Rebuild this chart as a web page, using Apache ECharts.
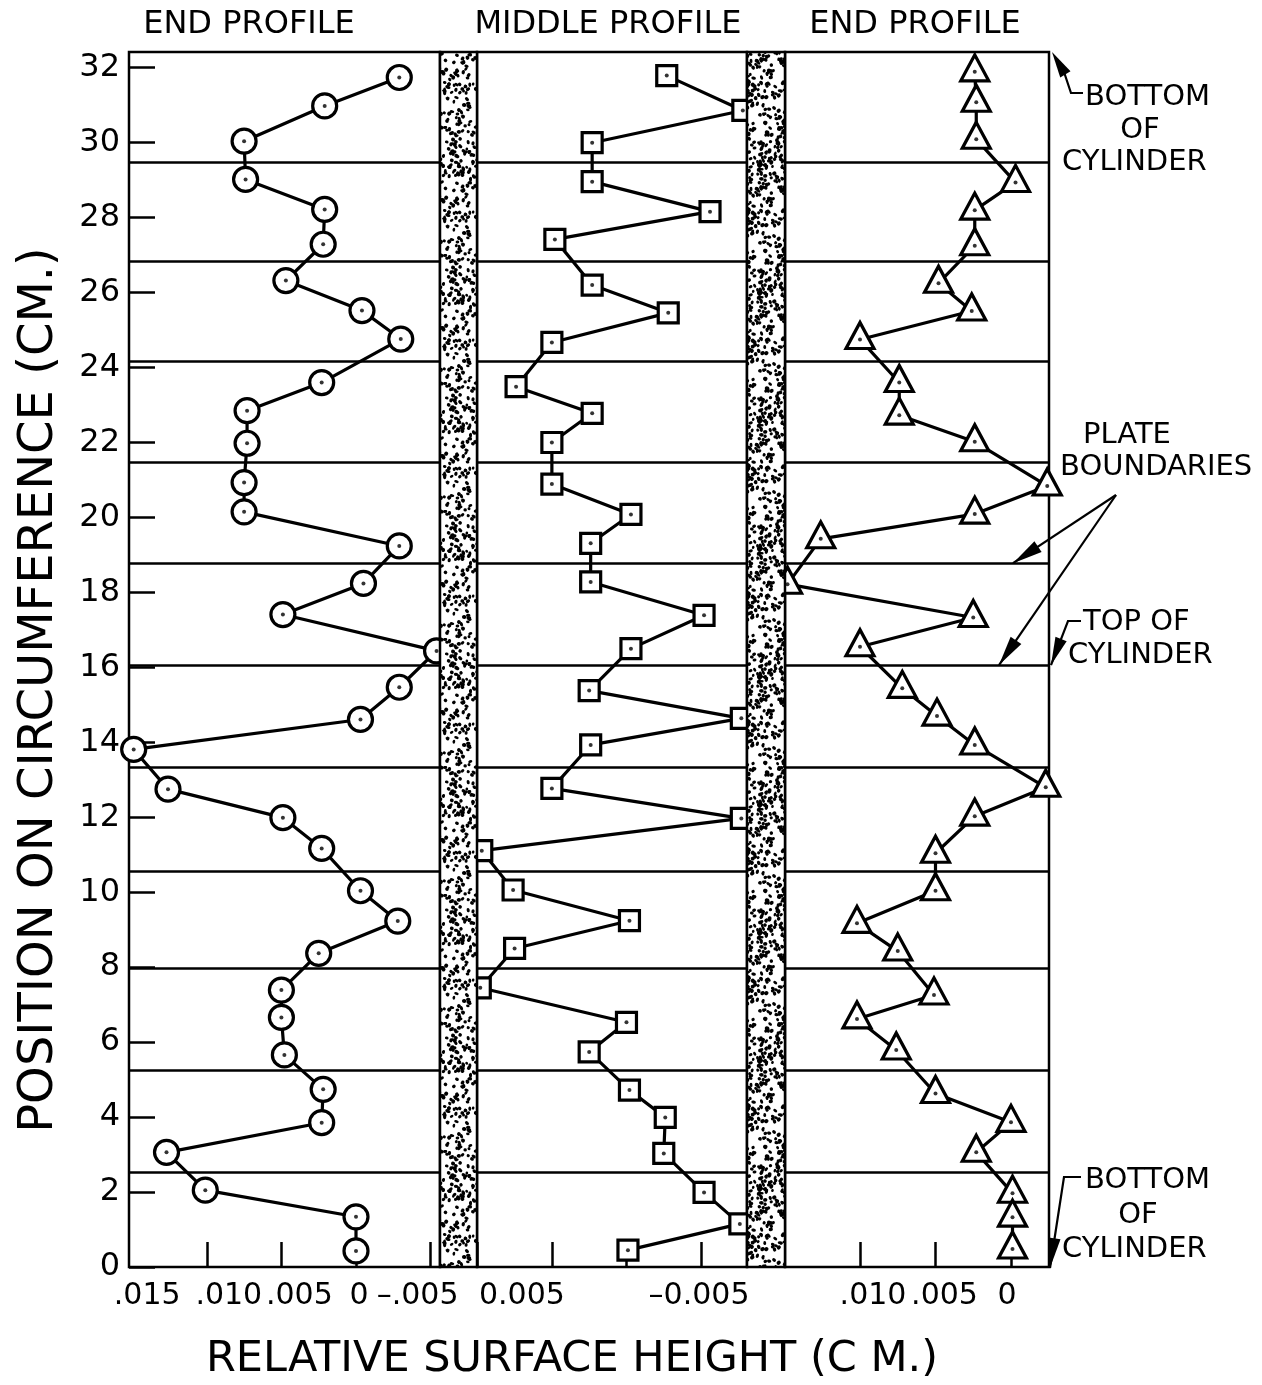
<!DOCTYPE html>
<html>
<head>
<meta charset="utf-8">
<script src="https://cdn.jsdelivr.net/npm/echarts@6/dist/echarts.min.js"></script>
<style>
  html, body { margin: 0; padding: 0; background: #fff; }
  #chart { width: 1262px; height: 1385px; }
</style>
</head>
<body>
<div id="chart"></div>
<script>
// ---- readings: position on circumference (cm) and relative surface height (cm) ----
const endLeftPos = [31.74, 30.98, 30.04, 29.02, 28.22, 27.29, 26.32, 25.52, 24.76, 23.60, 22.85, 21.98,
                    20.93, 20.15, 19.24, 18.24, 17.41, 16.44, 15.47, 14.61, 13.81, 12.75, 11.99, 11.17,
                    10.04, 9.23, 8.37, 7.39, 6.66, 5.66, 4.74, 3.85, 3.06, 2.05, 1.34, 0.43];
const endLeftHeight = [-0.0029, 0.0021, 0.0075, 0.0074, 0.0021, 0.0022, 0.0047, -0.0004, -0.0030, 0.0023, 0.0073, 0.0073,
                       0.0075, 0.0075, -0.0029, -0.0005, 0.0049, -0.0054, -0.0029, -0.0003, 0.0149, 0.0126, 0.0049, 0.0023,
                       -0.0003, -0.0028, 0.0025, 0.0050, 0.0050, 0.0048, 0.0022, 0.0023, 0.0127, 0.0101, 0.0000, 0.0000];

const middlePos = [31.79, 30.86, 30.00, 28.96, 28.16, 27.42, 26.20, 25.46, 24.67, 23.49, 22.78, 22.00,
                   20.89, 20.08, 19.31, 18.28, 17.39, 16.50, 15.38, 14.64, 13.93, 12.77, 11.97, 11.11,
                   10.06, 9.24, 8.50, 7.45, 6.53, 5.74, 4.72, 3.99, 3.03, 1.99, 1.15, 0.45];
const middleHeight = [-0.0027, -0.0078, 0.0023, 0.0023, -0.0056, 0.0048, 0.0023, -0.0028, 0.0050, 0.0074, 0.0023, 0.0050,
                      0.0050, -0.0003, 0.0024, 0.0024, -0.0052, -0.0003, 0.0025, -0.0077, 0.0024, 0.0050, -0.0077, 0.0097,
                      0.0076, -0.0002, 0.0075, 0.0098, 0.0000, 0.0025, -0.0002, -0.0026, -0.0025, -0.0052, -0.0076, -0.0001];

const endRightPos = [31.89, 31.08, 30.09, 28.94, 28.20, 27.25, 26.25, 25.51, 24.75, 23.60, 22.73, 22.02,
                     20.84, 20.09, 19.43, 18.22, 17.33, 16.55, 15.44, 14.70, 13.93, 12.80, 12.03, 11.04,
                     10.04, 9.17, 8.43, 7.26, 6.62, 5.79, 4.63, 3.86, 3.06, 1.97, 1.33, 0.48];
const endRightHeight = [0.0024, 0.0023, 0.0023, -0.0003, 0.0024, 0.0024, 0.0048, 0.0026, 0.0100, 0.0074, 0.0074, 0.0024,
                        -0.0024, 0.0024, 0.0126, 0.0148, 0.0025, 0.0100, 0.0072, 0.0049, 0.0024, -0.0023, 0.0024, 0.0050,
                        0.0050, 0.0102, 0.0075, 0.0051, 0.0102, 0.0076, 0.0050, 0.0000, 0.0023, -0.0001, -0.0001, -0.0001];

// plate boundaries (cm along the circumference)
const plateBoundaries = [2.52, 5.26, 7.97, 10.57, 13.33, 16.06, 18.78, 21.46, 24.17, 26.84, 29.47];

// ---- tick marks and tick labels ----
const yTicks = [0, 2, 4, 6, 8, 10, 12, 14, 16, 18, 20, 22, 24, 26, 28, 30, 32];
const leftTickValues = [0.010, 0.005, 0, -0.005];
const leftLabelValues = [0.015, 0.010, 0.005, 0, -0.005];
const leftLabelText = ['.015', '.010', '.005', '0', '–.005'];
const middleTickValues = [0.010, 0.005, 0, -0.005];
const middleLabelValues = [0.005, -0.005];
const middleLabelText = ['0.005', '–0.005'];
const rightTickValues = [0.010, 0.005, 0];
const rightLabelValues = [0.010, 0.005, 0];
const rightLabelText = ['.010', '.005', '0'];

const panelTitles = ['END PROFILE', 'MIDDLE PROFILE', 'END PROFILE'];

// ---- layout ----
const FONT = '"DejaVu Sans", "Liberation Sans", sans-serif';
const TOP = 52, BOTTOM = 1267, PLOT_H = BOTTOM - TOP;
const Y_MAX = 32.42;

const panels = [
  { left: 129, width: 311, min: -0.00563, max: 0.015214, ticks: leftTickValues,
    labels: leftLabelValues, texts: leftLabelText, shift: [15, 22, 18, 3, -13],
    pos: endLeftPos, h: endLeftHeight, symbol: 'circle', size: 24, offset: [0, 0], titleX: 249 },
  { left: 477, width: 270, min: -0.00808, max: 0.01002, ticks: middleTickValues,
    labels: middleLabelValues, texts: middleLabelText, shift: [-30, -2],
    pos: middlePos, h: middleHeight, symbol: 'rect', size: 20, offset: [0, 0], titleX: 608 },
  { left: 785, width: 264, min: -0.002517, max: 0.014967, ticks: rightTickValues,
    labels: rightLabelValues, texts: rightLabelText, shift: [13, 9, -4],
    pos: endRightPos, h: endRightHeight, symbol: 'triangle', size: [28, 26], offset: [0, -4], titleX: 915 }
];

const chart = echarts.init(document.getElementById('chart'), null, { renderer: 'canvas' });

const grids = panels.map(p => ({
  left: p.left, top: TOP, width: p.width, height: PLOT_H,
  show: true, borderColor: '#000', borderWidth: 2.5, backgroundColor: '#fff'
}));

const xAxes = panels.map((p, i) => {
  const rich = {};
  p.shift.forEach((d, k) => {
    rich['s' + k] = {
      fontSize: 30, fontFamily: FONT, color: '#000',
      padding: d >= 0 ? [0, 0, 0, 2 * d] : [0, -2 * d, 0, 0]
    };
  });
  return {
    type: 'value', gridIndex: i, inverse: true, min: p.min, max: p.max,
    axisLine: { show: false, onZero: false }, splitLine: { show: false },
    axisTick: { show: true, inside: true, length: 25, customValues: p.ticks,
                lineStyle: { color: '#000', width: 2.5 } },
    axisLabel: {
      show: true, customValues: p.labels, margin: 14, color: '#000',
      fontFamily: FONT, fontSize: 30, rich,
      formatter: v => {
        const k = p.labels.findIndex(x => Math.abs(x - v) < 1e-9);
        return k < 0 ? '' : '{s' + k + '|' + p.texts[k] + '}';
      }
    }
  };
});

const yAxes = panels.map((p, i) => ({
  type: 'value', gridIndex: i, min: 0, max: Y_MAX,
  axisLine: { show: false, onZero: false }, splitLine: { show: false },
  axisTick: { show: i === 0, inside: true, length: 26, customValues: yTicks,
              lineStyle: { color: '#000', width: 2.5 } },
  axisLabel: { show: i === 0, customValues: yTicks, margin: 9, color: '#000',
               fontFamily: FONT, fontSize: 32 }
}));

const series = [];
panels.forEach((p, i) => {
  const data = p.h.map((v, k) => [v, p.pos[k]]);
  // plate boundary lines
  series.push({
    type: 'scatter', xAxisIndex: i, yAxisIndex: i, data: [], z: 1, silent: true,
    markLine: {
      silent: true, symbol: ['none', 'none'], label: { show: false },
      lineStyle: { color: '#000', width: 2.5, type: 'solid' },
      emphasis: { disabled: true },
      data: plateBoundaries.map(v => ({ yAxis: v }))
    }
  });
  // profile trace with hollow markers
  series.push({
    type: 'line', xAxisIndex: i, yAxisIndex: i, data, z: 3, silent: true, clip: false,
    symbol: p.symbol, symbolSize: p.size, symbolOffset: p.offset, showSymbol: true,
    lineStyle: { color: '#000', width: 3.2 },
    itemStyle: { color: '#fff', borderColor: '#000', borderWidth: 3.2 },
    emphasis: { disabled: true }
  });
  // centre dot in every marker
  series.push({
    type: 'scatter', xAxisIndex: i, yAxisIndex: i, data, z: 4, silent: true, clip: false,
    symbol: 'circle', symbolSize: 4, itemStyle: { color: '#000' },
    emphasis: { disabled: true }
  });
});

chart.setOption({
  animation: false,
  backgroundColor: '#fff',
  grid: grids, xAxis: xAxes, yAxis: yAxes, series
});

// ---- stippled separators, titles and annotations ----
function stippleCanvas() {
  const n = 128;
  const c = document.createElement('canvas');
  c.width = n; c.height = n;
  const g = c.getContext('2d');
  g.fillStyle = '#fff'; g.fillRect(0, 0, n, n);
  g.fillStyle = '#000';
  // small deterministic generator for the texture
  let s = 0x9e3779b9;
  const rnd = () => {
    s = (s + 0x6D2B79F5) | 0;
    let t = Math.imul(s ^ (s >>> 15), 1 | s);
    t = (t + Math.imul(t ^ (t >>> 7), 61 | t)) ^ t;
    return ((t ^ (t >>> 14)) >>> 0) / 4294967296;
  };
  for (let k = 0; k < 620; k++) {
    const x = rnd() * n, y = rnd() * n;
    const rx = 1.5 + rnd() * 0.9, ry = 1.3 + rnd() * 0.7, a = rnd() * Math.PI;
    for (const ox of [-n, 0, n]) for (const oy of [-n, 0, n]) {
      g.beginPath(); g.ellipse(x + ox, y + oy, rx, ry, a, 0, 2 * Math.PI); g.fill();
    }
  }
  return c;
}
const stipple = { image: stippleCanvas(), repeat: 'repeat' };

function text(str, x, y, size, align, extra) {
  return Object.assign({
    type: 'text', x, y, z: 70, silent: true,
    style: { text: str, x: 0, y: 0, fill: '#000', font: size + 'px ' + FONT,
             textAlign: align || 'left', textVerticalAlign: 'middle' }
  }, extra || {});
}
function line(points, w) {
  return { type: 'polyline', z: 65, silent: true, shape: { points },
           style: { stroke: '#000', lineWidth: w || 2.2, fill: null } };
}
function head(from, tip, len, wid) {
  const dx = tip[0] - from[0], dy = tip[1] - from[1];
  const d = Math.hypot(dx, dy), ux = dx / d, uy = dy / d;
  const bx = tip[0] - ux * len, by = tip[1] - uy * len;
  return { type: 'polygon', z: 66, silent: true,
           shape: { points: [tip, [bx - uy * wid / 2, by + ux * wid / 2], [bx + uy * wid / 2, by - ux * wid / 2]] },
           style: { fill: '#000' } };
}

const yPix = v => chart.convertToPixel({ yAxisIndex: 2 }, v);
const right = panels[2].left + panels[2].width;

const graphics = [];
// stippled bands between the panels
for (let i = 0; i < 2; i++) {
  const x0 = panels[i].left + panels[i].width, x1 = panels[i + 1].left;
  graphics.push({ type: 'rect', z: 50, silent: true,
    shape: { x: x0, y: TOP, width: x1 - x0, height: PLOT_H },
    style: { fill: stipple, stroke: '#000', lineWidth: 2.5 } });
}
// panel titles
panels.forEach((p, i) => graphics.push(text(panelTitles[i], p.titleX, 25, 32, 'center')));
// axis titles
graphics.push(text('RELATIVE SURFACE HEIGHT (C M.)', 572, 1360, 43, 'center'));
graphics.push(text('POSITION ON CIRCUMFERENCE (CM.)', 40, 690, 48, 'center', { rotation: Math.PI / 2 }));

// "BOTTOM OF CYLINDER" (top corner)
graphics.push(text('BOTTOM', 1085, 97, 29));
graphics.push(text('OF', 1140, 130, 29, 'center'));
graphics.push(text('CYLINDER', 1062, 162, 29));
const topTip = [right + 3, TOP];
graphics.push(line([[1083, 93], [1071, 93], [1064, 72]]));
graphics.push(head([1064, 72], topTip, 26, 12));

// "PLATE BOUNDARIES"
graphics.push(text('PLATE', 1083, 435, 29));
graphics.push(text('BOUNDARIES', 1060, 467, 29));
const pbFrom = [1116, 495];
const tipA = [1013, yPix(18.78)];
const tipB = [999, yPix(16.06)];
graphics.push(line([pbFrom, tipA]));
graphics.push(head(pbFrom, tipA, 30, 13));
graphics.push(line([pbFrom, tipB]));
graphics.push(head(pbFrom, tipB, 30, 13));

// "TOP OF CYLINDER"
graphics.push(text('TOP OF', 1083, 622, 29));
graphics.push(text('CYLINDER', 1068, 655, 29));
const topCylTip = [right + 2, yPix(16.06)];
graphics.push(line([[1081, 621], [1068, 621], topCylTip]));
graphics.push(head([1068, 621], topCylTip, 28, 12));

// "BOTTOM OF CYLINDER" (bottom corner)
graphics.push(text('BOTTOM', 1085, 1180, 29));
graphics.push(text('OF', 1138, 1215, 29, 'center'));
graphics.push(text('CYLINDER', 1062, 1249, 29));
const botTip = [right + 1, BOTTOM + 1];
graphics.push(line([[1081, 1177], [1064, 1177], botTip]));
graphics.push(head([1064, 1177], botTip, 30, 12));

chart.setOption({ graphic: graphics });
</script>
</body>
</html>
